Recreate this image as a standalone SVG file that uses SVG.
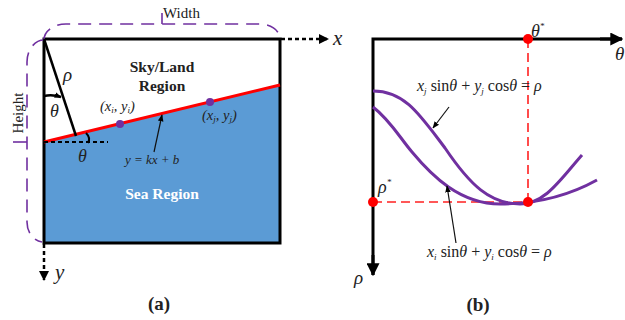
<svg xmlns="http://www.w3.org/2000/svg" width="625" height="320" viewBox="0 0 625 320">
<style>
text{font-family:"Liberation Serif","Times New Roman",serif;fill:#222}
.it{font-style:italic}
.b{font-weight:bold}
.sub{font-size:9px}
.purp{fill:none;stroke:#7030a0;stroke-width:1.6;stroke-dasharray:13 8}
.curve{fill:none;stroke:#7030a0;stroke-width:3}
.red{fill:none;stroke:#ff2020;stroke-width:1.6;stroke-dasharray:9 5}
.thin{fill:none;stroke:#111;stroke-width:1.2}
</style>
<defs>
<marker id="ah" viewBox="0 0 10 10" refX="9" refY="5" markerWidth="10" markerHeight="10" markerUnits="userSpaceOnUse" orient="auto"><path d="M0,0 L10,5 L0,10 z" fill="#000"/></marker>
<marker id="ahs" viewBox="0 0 10 10" refX="9" refY="5" markerWidth="7" markerHeight="7" markerUnits="userSpaceOnUse" orient="auto"><path d="M0,1 L10,5 L0,9 z" fill="#000"/></marker>
<marker id="ahb" viewBox="0 0 10 10" refX="9" refY="5" markerWidth="13" markerHeight="13" markerUnits="userSpaceOnUse" orient="auto"><path d="M0,0 L10,5 L0,10 z" fill="#000"/></marker>
</defs>

<g id="panel-a">
  <g id="sea-region">
    <polygon points="44,142 280,85 280,243 44,243" fill="#5b9bd5"/>
    <text class="b" x="162" y="199" font-size="15.5" text-anchor="middle" style="fill:#fff">Sea Region</text>
  </g>
  <g id="frame">
    <rect x="44" y="39" width="236" height="204" fill="none" stroke="#000" stroke-width="3"/>
  </g>
  <g id="sky-land-region">
    <text class="b" x="162" y="72" font-size="15.5" text-anchor="middle">Sky/Land</text>
    <text class="b" x="162" y="91" font-size="15.5" text-anchor="middle">Region</text>
  </g>
  <g id="brackets">
    <path class="purp" d="M44,40 A22,16 0 0 1 66,24 H260 A20,15 0 0 1 280,39"/>
    <line x1="162" y1="24" x2="162" y2="13" stroke="#7030a0" stroke-width="1.6"/>
    <text x="163" y="18" font-size="15">Width</text>
    <path class="purp" d="M44,40 A17,22 0 0 0 27,62 V222 A17,20 0 0 0 42,242"/>
    <line x1="27" y1="142" x2="13" y2="142" stroke="#7030a0" stroke-width="1.6"/>
    <text x="23" y="113" font-size="15" text-anchor="middle" transform="rotate(-90 23 113)">Height</text>
  </g>
  <g id="horizon-line">
    <line x1="44" y1="142" x2="280" y2="85" stroke="#ff0000" stroke-width="3"/>
    <line x1="44" y1="142" x2="108" y2="142" stroke="#000" stroke-width="2" stroke-dasharray="4 3"/>
    <path d="M86,133 Q91,138 88,143" fill="none" stroke="#000" stroke-width="2"/>
    <text class="it" x="78" y="162" font-size="18">θ</text>
  </g>
  <g id="rho-line">
    <line x1="44" y1="39" x2="76" y2="136" stroke="#000" stroke-width="2.5"/>
    <text class="it" x="63" y="81" font-size="19">ρ</text>
    <path d="M44,96 Q52,94 61,97" fill="none" stroke="#000" stroke-width="2.5" marker-end="url(#ahs)"/>
    <text class="it" x="50" y="117" font-size="18">θ</text>
  </g>
  <g id="point-i">
    <circle cx="120" cy="124" r="4" fill="#7030a0"/>
    <text class="it" x="100" y="111" font-size="14.5">(x<tspan class="sub" dy="2">i</tspan><tspan dy="-2">, y</tspan><tspan class="sub" dy="2">i</tspan><tspan dy="-2">)</tspan></text>
  </g>
  <g id="point-j">
    <circle cx="210" cy="102" r="4" fill="#7030a0"/>
    <text class="it" x="202" y="120" font-size="14.5">(x<tspan class="sub" dy="2">j</tspan><tspan dy="-2">, y</tspan><tspan class="sub" dy="2">j</tspan><tspan dy="-2">)</tspan></text>
  </g>
  <g id="line-eq">
    <line class="thin" x1="154" y1="152" x2="162" y2="115" marker-end="url(#ahs)"/>
    <text class="it" x="125" y="164" font-size="13">y = kx + b</text>
  </g>
  <g id="axes-a">
    <line x1="281" y1="39" x2="328" y2="39" stroke="#000" stroke-width="2.5" stroke-dasharray="4 3" marker-end="url(#ah)"/>
    <text class="it" x="333" y="45" font-size="21">x</text>
    <line x1="44" y1="244" x2="44" y2="280" stroke="#000" stroke-width="2.5" stroke-dasharray="4 3" marker-end="url(#ah)"/>
    <text class="it" x="55" y="279" font-size="21">y</text>
  </g>
  <text class="b" x="159" y="310" font-size="19" text-anchor="middle">(a)</text>
</g>

<g id="panel-b">
  <g id="guides">
    <line class="red" x1="528" y1="39" x2="528" y2="202"/>
    <line class="red" x1="373" y1="202" x2="528" y2="202"/>
  </g>
  <g id="axes-b">
    <path d="M373,275 V39 H622" fill="none" stroke="#000" stroke-width="3"/>
    <line x1="600" y1="39" x2="622" y2="39" stroke="#000" stroke-width="3" marker-end="url(#ahb)"/>
    <line x1="373" y1="255" x2="373" y2="275" stroke="#000" stroke-width="3" marker-end="url(#ahb)"/>
    <text class="it" x="615" y="60" font-size="19">θ</text>
    <text class="it" x="354" y="284" font-size="19">ρ</text>
  </g>
  <g id="curve-j">
    <path class="curve" d="M373,91 C405,91 420,115 445,148 C470,185 490,204 520,204 C545,204 560,180 582,155"/>
    <line class="thin" x1="449" y1="107" x2="433" y2="128" marker-end="url(#ahs)"/>
    <text x="417" y="91" font-size="16"><tspan class="it">x</tspan><tspan class="sub it" dy="3">j</tspan><tspan dy="-3"> sin</tspan><tspan class="it">θ</tspan> + <tspan class="it">y</tspan><tspan class="sub it" dy="3">j</tspan><tspan dy="-3"> cos</tspan><tspan class="it">θ</tspan> = <tspan class="it">ρ</tspan></text>
  </g>
  <g id="curve-i">
    <path class="curve" d="M373,107 C390,120 400,138 412,152 C432,176 460,204 500,204 C540,204 570,195 597,180"/>
    <line class="thin" x1="456" y1="243" x2="447" y2="186" marker-end="url(#ahs)"/>
    <text x="427" y="257" font-size="16"><tspan class="it">x</tspan><tspan class="sub it" dy="3">i</tspan><tspan dy="-3"> sin</tspan><tspan class="it">θ</tspan> + <tspan class="it">y</tspan><tspan class="sub it" dy="3">i</tspan><tspan dy="-3"> cos</tspan><tspan class="it">θ</tspan> = <tspan class="it">ρ</tspan></text>
  </g>
  <g id="theta-star">
    <circle cx="528" cy="39" r="5" fill="#ff0000"/>
    <text class="it" x="531" y="37" font-size="18">θ<tspan font-size="9" dy="-8">*</tspan></text>
  </g>
  <g id="rho-star">
    <circle cx="373" cy="202" r="5" fill="#ff0000"/>
    <text class="it" x="378" y="193" font-size="18">ρ<tspan font-size="9" dy="-8">*</tspan></text>
  </g>
  <g id="intersection">
    <circle cx="528" cy="202" r="5" fill="#ff0000"/>
  </g>
  <text class="b" x="478" y="311" font-size="19" text-anchor="middle">(b)</text>
</g>
</svg>
